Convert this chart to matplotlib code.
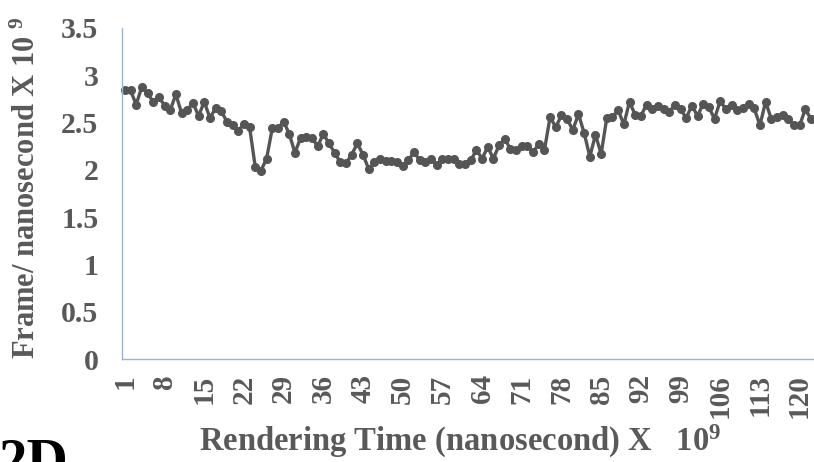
import matplotlib
matplotlib.use('Agg')
import matplotlib.pyplot as plt
import numpy as np

# frame rate per sample (index 1..123)
frame_rate = [
    2.84, 2.84, 2.69, 2.88, 2.81, 2.72, 2.77, 2.68, 2.63, 2.80,
    2.60, 2.63, 2.71, 2.57, 2.72, 2.55, 2.65, 2.62, 2.51, 2.47,
    2.41, 2.49, 2.45, 2.03, 1.99, 2.12, 2.44, 2.44, 2.51, 2.38,
    2.18, 2.34, 2.35, 2.34, 2.25, 2.38, 2.28, 2.18, 2.08, 2.07,
    2.16, 2.28, 2.16, 2.01, 2.08, 2.12, 2.09, 2.09, 2.08, 2.04,
    2.10, 2.19, 2.10, 2.08, 2.12, 2.05, 2.11, 2.11, 2.12, 2.06,
    2.06, 2.10, 2.21, 2.12, 2.24, 2.12, 2.26, 2.33, 2.22, 2.21,
    2.25, 2.25, 2.19, 2.27, 2.21, 2.56, 2.45, 2.58, 2.54, 2.42,
    2.59, 2.39, 2.14, 2.37, 2.17, 2.55, 2.56, 2.63, 2.48, 2.72,
    2.58, 2.57, 2.69, 2.64, 2.67, 2.64, 2.61, 2.69, 2.64, 2.55,
    2.68, 2.57, 2.70, 2.66, 2.54, 2.73, 2.64, 2.69, 2.63, 2.65,
    2.70, 2.65, 2.47, 2.72, 2.54, 2.56, 2.58, 2.54, 2.47, 2.47,
    2.64, 2.54, 2.52,
]
samples = np.arange(1, len(frame_rate) + 1)
xtick_labels = list(range(1, 121, 7))
ytick_values = [0, 0.5, 1, 1.5, 2, 2.5, 3, 3.5]

gray = '#595959'
plt.rcParams['font.family'] = ['Liberation Serif', 'DejaVu Serif']
plt.rcParams['font.weight'] = 'bold'
plt.rcParams['mathtext.fontset'] = 'custom'
plt.rcParams['mathtext.rm'] = 'Liberation Serif:bold'
plt.rcParams['mathtext.it'] = 'Liberation Serif:bold'
plt.rcParams['mathtext.bf'] = 'Liberation Serif:bold'

fig = plt.figure(figsize=(8.14, 4.62), dpi=100)
ax = fig.add_axes([0.1499, 0.2229, 0.8568, 0.7165])

ax.plot(samples, frame_rate, color='#555555', linewidth=2.4,
        marker='o', markersize=5.5, clip_on=False)

ax.set_xlim(0.5, len(frame_rate) + 0.5)
ax.set_ylim(0, 3.5)
ax.set_xticks(xtick_labels)
ax.set_xticklabels([str(v) for v in xtick_labels], rotation=90)
ax.set_yticks(ytick_values)
ax.set_yticklabels(['0', '0.5', '1', '1.5', '2', '2.5', '3', '3.5'])

ax.tick_params(axis='x', length=0, pad=11, labelsize=21, labelcolor=gray)
ax.tick_params(axis='y', length=0, pad=17, labelsize=21.5, labelcolor=gray)
for lab in ax.get_xticklabels() + ax.get_yticklabels():
    lab.set_fontweight('bold')

for side in ['top', 'right']:
    ax.spines[side].set_visible(False)
for side in ['left', 'bottom']:
    ax.spines[side].set_color('#9db4cf')
    ax.spines[side].set_linewidth(1.0)

fig.text(0.034, 0.593, r'Frame/ nanosecond X 10 $^{9}$', rotation=90,
         ha='center', va='center', fontsize=22, color=gray, fontweight='bold')
fig.text(0.565, 0.024, r'Rendering Time (nanosecond) X   10$^{9}$',
         ha='center', va='baseline', fontsize=23.5, color=gray, fontweight='bold')
fig.text(-0.002, -0.035, '2D', ha='left', va='baseline', fontsize=41,
         color='black', fontweight='bold')

fig.savefig('out.png', dpi=100)
